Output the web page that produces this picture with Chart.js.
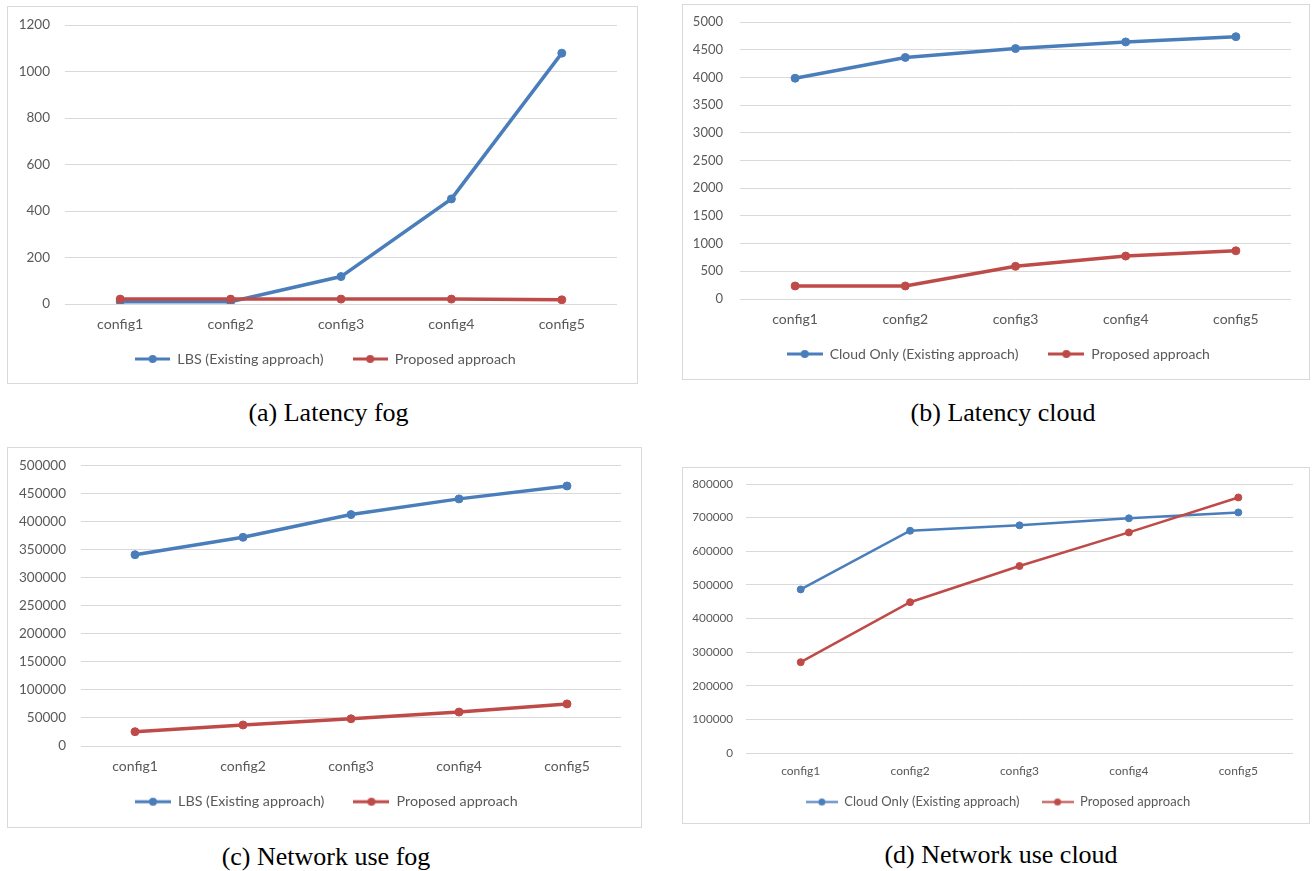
<!DOCTYPE html>
<html>
<head>
<meta charset="utf-8">
<title>Latency and network use per configuration</title>
<script src="https://cdn.jsdelivr.net/npm/chart.js@4.4.1/dist/chart.umd.min.js"></script>
<style>
  html, body { margin: 0; padding: 0; background: #ffffff; }
  body { width: 1313px; height: 871px; position: relative; overflow: hidden; }
  .frame { position: absolute; border: 1px solid #d9d9d9; box-sizing: border-box; }
  canvas.plot { position: absolute; }
  .caption {
    position: absolute; width: 420px; text-align: center; white-space: nowrap;
    font-family: "Liberation Serif", "Times New Roman", serif; font-size: 26px;
    line-height: 30px; color: #000000;
  }
</style>
</head>
<body>
<script>
// ---- data ----
const configs = ['config1', 'config2', 'config3', 'config4', 'config5'];

const latencyFogLbs      = [10, 10, 118, 452, 1079];
const latencyFogProposed = [21, 21, 21, 21, 18];

const latencyCloudOnly     = [3985, 4360, 4520, 4640, 4735];
const latencyCloudProposed = [235, 235, 590, 775, 870];

const networkFogLbs      = [341000, 372000, 412500, 440500, 463500];
const networkFogProposed = [25500, 37500, 48500, 60500, 75000];

const networkCloudOnly     = [486500, 661000, 677000, 698000, 715500];
const networkCloudProposed = [270000, 448500, 556000, 656000, 760000];

const lbsLabel       = 'LBS (Existing approach)';
const cloudOnlyLabel = 'Cloud Only (Existing approach)';
const proposedLabel  = 'Proposed approach';

const captions  = ['(a) Latency fog', '(b) Latency cloud', '(c) Network use fog', '(d) Network use cloud'];
const axisMax   = [1200, 5000, 500000, 800000];
const axisStep  = [200, 500, 50000, 100000];

// ---- styling ----
const BLUE = '#4a7ebb';
const RED = '#be4b48';
const TEXT = '#595959';
const GRID = '#d9d9d9';
Chart.defaults.font.family = 'Lato, "Open Sans", "DejaVu Sans", sans-serif';
Chart.defaults.color = TEXT;

// Frame geometry of each panel (page pixels) and the plot box inside it.
const panels = [
  { left: 7,   top: 6,   width: 631, height: 378, plotLeft: 58, plotTop: 19,   plotRight: 610, plotBottom: 298,
    tickPad: 15, catGap: 20, legendY: 353,   legendX: 318.5, itemGap: 29, font: 13.5, catFont: 14.2, legendFont: 14.3,
    keyWidth: 35, lineWidth: 3.5, radius: 4, capX: 328.5, capY: 413 },
  { left: 682, top: 4,   width: 628, height: 376, plotLeft: 58, plotTop: 18,   plotRight: 609, plotBottom: 295,
    tickPad: 17, catGap: 20, legendY: 350,   legendX: 316.3, itemGap: 30, font: 13,   catFont: 14, legendFont: 14,
    keyWidth: 36, lineWidth: 3.5, radius: 4, capX: 1003, capY: 413 },
  { left: 7,   top: 447, width: 635, height: 381, plotLeft: 74, plotTop: 18.5, plotRight: 614, plotBottom: 299,
    tickPad: 15, catGap: 20, legendY: 354.7, legendX: 319.3, itemGap: 29, font: 13.5, catFont: 14, legendFont: 14.3,
    keyWidth: 36, lineWidth: 3.5, radius: 4, capX: 326, capY: 857 },
  { left: 682, top: 467, width: 628, height: 357, plotLeft: 64, plotTop: 17,   plotRight: 611, plotBottom: 286,
    tickPad: 13, catGap: 18, legendY: 335,   legendX: 316, itemGap: 22, font: 11.7, catFont: 12, legendFont: 13,
    keyWidth: 32, lineWidth: 2.5, radius: 3.5, capX: 1001, capY: 855 }
];

const seriesSets = [
  [[lbsLabel, latencyFogLbs, BLUE], [proposedLabel, latencyFogProposed, RED]],
  [[cloudOnlyLabel, latencyCloudOnly, BLUE], [proposedLabel, latencyCloudProposed, RED]],
  [[lbsLabel, networkFogLbs, BLUE], [proposedLabel, networkFogProposed, RED]],
  [[cloudOnlyLabel, networkCloudOnly, BLUE], [proposedLabel, networkCloudProposed, RED]]
];

// Legend key: a short line segment with a marker in its middle.
function legendKey(color, w, lw, r) {
  const c = document.createElement('canvas');
  c.width = w; c.height = Math.ceil(2 * r + 2);
  const g = c.getContext('2d');
  const cy = c.height / 2;
  g.strokeStyle = color; g.lineWidth = lw;
  g.beginPath(); g.moveTo(0, cy); g.lineTo(w, cy); g.stroke();
  g.fillStyle = color;
  g.beginPath(); g.arc(w / 2, cy, r, 0, Math.PI * 2); g.fill();
  return c;
}

// Pins the plot box to fixed edges so every panel shares the same frame geometry.
const plotBox = {
  id: 'plotBox',
  afterLayout(chart, args, o) {
    const area = chart.chartArea;
    area.left = o.left; area.top = o.top; area.right = o.right; area.bottom = o.bottom;
    area.width = o.right - o.left; area.height = o.bottom - o.top;
    const y = chart.scales.y, x = chart.scales.x;
    y.top = o.top; y.bottom = o.bottom; y.height = o.bottom - o.top;
    y.left = 0; y.right = o.left; y.width = o.left;
    x.left = o.left; x.right = o.right; x.width = o.right - o.left;
    x.top = o.bottom; x.bottom = chart.height - 1; x.height = x.bottom - x.top;
    y.configure(); x.configure();
  }
};

// Places the legend row at a fixed band below the category labels.
const legendPlacer = {
  id: 'legendPlacer',
  beforeDraw(chart, args, opts) {
    const lg = chart.legend;
    if (!lg) return;
    const dx = opts.centerX - (lg.left + lg.right) / 2;
    lg.left += dx; lg.right += dx;
    lg.top = opts.top; lg.height = opts.height; lg.bottom = opts.top + opts.height;
  }
};

panels.forEach((p, i) => {
  const frame = document.createElement('div');
  frame.className = 'frame';
  Object.assign(frame.style, { left: p.left + 'px', top: p.top + 'px', width: p.width + 'px', height: p.height + 'px' });
  document.body.appendChild(frame);

  const canvas = document.createElement('canvas');
  canvas.className = 'plot';
  canvas.width = p.width; canvas.height = p.height;
  Object.assign(canvas.style, { left: p.left + 'px', top: p.top + 'px' });
  document.body.appendChild(canvas);

  const cap = document.createElement('div');
  cap.className = 'caption';
  cap.textContent = captions[i];
  Object.assign(cap.style, { left: (p.capX - 210) + 'px', top: (p.capY - 15) + 'px' });
  document.body.appendChild(cap);

  // Layout arithmetic: axis band heights, paddings and the legend band.
  const padRight = p.width - p.plotRight;
  const legendHeight = p.legendFont + p.itemGap + 10;
  const legendTop = p.legendY - p.itemGap - p.legendFont / 2;
  const xAxisHeight = p.height - p.plotBottom - 1;
  const xTickPad = p.catGap - 0.6 * p.catFont;

  const series = seriesSets[i];
  const keys = series.map(s => legendKey(s[2], p.keyWidth, p.lineWidth - 0.5, p.radius));

  new Chart(canvas, {
    type: 'line',
    data: {
      labels: configs,
      datasets: series.map((s, k) => ({
        label: s[0],
        data: s[1],
        borderColor: s[2],
        backgroundColor: s[2],
        borderWidth: p.lineWidth,
        pointRadius: p.radius,
        pointBorderWidth: 1,
        pointBorderColor: s[2],
        pointBackgroundColor: s[2],
        tension: 0,
        fill: false,
        order: series.length - k
      }))
    },
    plugins: [plotBox, legendPlacer],
    options: {
      responsive: false,
      devicePixelRatio: 1,
      animation: false,
      events: [],
      layout: { padding: { left: 0, right: padRight, top: p.plotTop, bottom: 0 } },
      plugins: {
        tooltip: { enabled: false },
        plotBox: { left: p.plotLeft, top: p.plotTop, right: p.plotRight, bottom: p.plotBottom },
        legendPlacer: { top: legendTop, height: legendHeight, centerX: p.legendX },
        legend: {
          position: 'bottom',
          maxHeight: 1,
          labels: {
            usePointStyle: true,
            pointStyleWidth: p.keyWidth,
            padding: p.itemGap,
            color: TEXT,
            font: { size: p.legendFont },
            generateLabels: chart => chart.data.datasets.map((ds, k) => ({
              text: ds.label,
              pointStyle: keys[k],
              fontColor: TEXT,
              hidden: false,
              datasetIndex: k,
              lineWidth: 0,
              strokeStyle: 'transparent',
              fillStyle: 'transparent'
            }))
          }
        }
      },
      scales: {
        x: {
          offset: true,
          grid: { display: false, drawTicks: false },
          border: { display: false },
          ticks: { autoSkip: false, maxRotation: 0, padding: xTickPad, color: TEXT, font: { size: p.catFont } },
          afterFit: sc => { sc.height = xAxisHeight; }
        },
        y: {
          min: 0,
          max: axisMax[i],
          grid: { color: GRID, lineWidth: 1, drawTicks: false },
          border: { display: false },
          ticks: {
            stepSize: axisStep[i],
            padding: p.tickPad,
            color: TEXT,
            font: { size: p.font },
            callback: v => String(v)
          },
          afterFit: sc => { sc.width = p.plotLeft; }
        }
      }
    }
  });
});
</script>
</body>
</html>
